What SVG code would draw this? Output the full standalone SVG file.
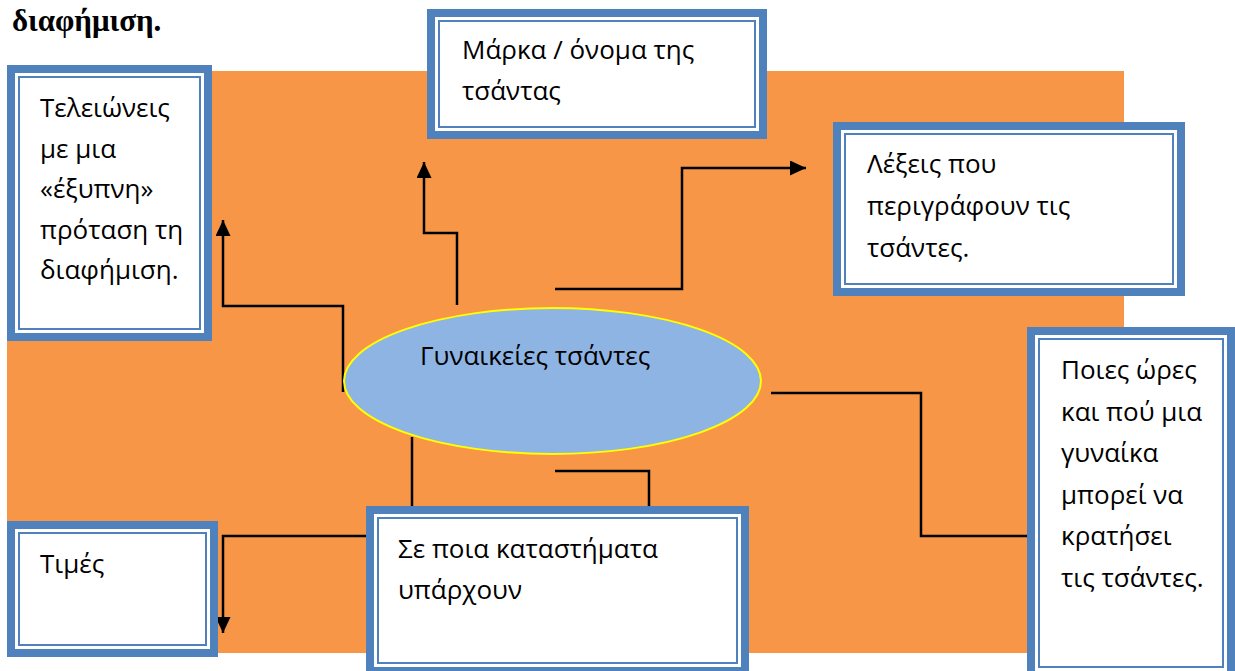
<svg xmlns="http://www.w3.org/2000/svg" width="1235" height="671" viewBox="0 0 1235 671">
<style>
.bx{fill:#ffffff;stroke:#4F81BD;stroke-width:8}
.in{fill:none;stroke:#4F81BD;stroke-width:2}
.t{font-family:"Open Sans","Noto Sans","DejaVu Sans",sans-serif;font-size:26px;fill:#000}
.con{fill:none;stroke:#000;stroke-width:2.5}
</style>
<defs>
<marker id="ah" markerUnits="userSpaceOnUse" markerWidth="16" markerHeight="15" refX="16" refY="7.5" orient="auto">
<path d="M0,0 L16,7.5 L0,15 Z" fill="#000"/>
</marker>
</defs>
<rect width="1235" height="671" fill="#fff"/>
<text x="12" y="31" font-family="'Liberation Serif',serif" font-weight="bold" font-size="31" fill="#000">διαφήμιση.</text>
<rect id="background" x="7" y="71" width="1117" height="582" fill="#F79646"/>
<g id="connectors">
<path class="con" d="M343,392 V306 H223 V220" marker-end="url(#ah)"/>
<path class="con" d="M457,305 V233 H424 V162" marker-end="url(#ah)"/>
<path class="con" d="M555,289 H682 V168 H806" marker-end="url(#ah)"/>
<path class="con" d="M771,393 H921 V536 H1027"/>
<path class="con" d="M555,471 H649 V506"/>
<path class="con" d="M412,437 V536 H223 V633" marker-end="url(#ah)"/>
</g>
<g id="center">
<ellipse cx="552.5" cy="381" rx="208.5" ry="73" fill="#8EB4E3" stroke="#FFFF00" stroke-width="2"/>
<text class="t" x="420" y="365">Γυναικείες τσάντες</text>
</g>
<g id="ending">
<rect class="bx" x="11" y="69" width="197" height="268"/>
<rect class="in" x="19" y="77" width="181" height="252"/>
<text class="t" x="40" y="117"><tspan x="40" y="117">Τελειώνεις</tspan><tspan x="40" y="157.5">με μια</tspan><tspan x="40" y="198">«έξυπνη»</tspan><tspan x="40" y="238.5">πρόταση τη</tspan><tspan x="40" y="279">διαφήμιση.</tspan></text>
</g>
<g id="brand">
<rect class="bx" x="431" y="13" width="332" height="122"/>
<rect class="in" x="439" y="21" width="316" height="106"/>
<text class="t"><tspan x="462" y="59">Μάρκα / όνομα της</tspan><tspan x="462" y="100">τσάντας</tspan></text>
</g>
<g id="words">
<rect class="bx" x="837" y="126" width="344" height="166"/>
<rect class="in" x="845" y="134" width="328" height="150"/>
<text class="t"><tspan x="867" y="173">Λέξεις που</tspan><tspan x="867" y="215">περιγράφουν τις</tspan><tspan x="867" y="257">τσάντες.</tspan></text>
</g>
<g id="hours">
<rect class="bx" x="1031" y="331" width="200" height="344"/>
<rect class="in" x="1039" y="339" width="184" height="328"/>
<text class="t"><tspan x="1061" y="379">Ποιες ώρες</tspan><tspan x="1061" y="420.5">και πού μια</tspan><tspan x="1061" y="462">γυναίκα</tspan><tspan x="1061" y="503.5">μπορεί να</tspan><tspan x="1061" y="545">κρατήσει</tspan><tspan x="1061" y="586.5">τις τσάντες.</tspan></text>
</g>
<g id="prices">
<rect class="bx" x="11" y="525" width="203" height="128"/>
<rect class="in" x="19" y="533" width="187" height="112"/>
<text class="t" x="40" y="573">Τιμές</text>
</g>
<g id="stores">
<rect class="bx" x="370" y="510" width="375" height="161"/>
<rect class="in" x="378" y="518" width="359" height="145"/>
<text class="t"><tspan x="398" y="558">Σε ποια καταστήματα</tspan><tspan x="398" y="599">υπάρχουν</tspan></text>
</g>
</svg>
